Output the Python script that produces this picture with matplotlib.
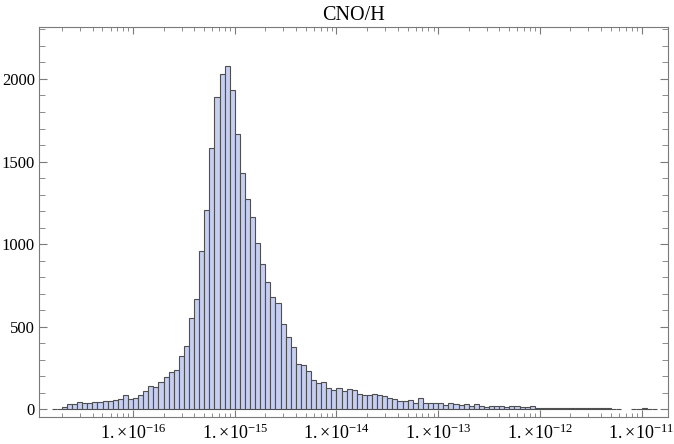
import numpy as np
import matplotlib
matplotlib.use("Agg")
import matplotlib.pyplot as plt
from matplotlib.ticker import FixedLocator, LogLocator, NullFormatter, MultipleLocator

plt.rcParams['font.family'] = ['Liberation Serif', 'DejaVu Serif']
plt.rcParams['mathtext.fontset'] = 'custom'
plt.rcParams['mathtext.rm'] = 'Liberation Serif'
plt.rcParams['mathtext.it'] = 'Liberation Serif:italic'
plt.rcParams['mathtext.bf'] = 'Liberation Serif:bold'

title = "CNO/H"
# histogram in log10 space: first bin edge and bin width (dex)
log_start = -16.80
log_width = 0.05
counts = [
    3, 3, 12, 32, 28, 40, 34, 34, 40, 40,
    46, 46, 58, 60, 83, 64, 70, 87, 107, 139,
    131, 165, 194, 226, 238, 319, 383, 549, 665, 955,
    1209, 1580, 1889, 2032, 2079, 1931, 1669, 1433, 1271, 1164,
    1009, 876, 771, 678, 644, 517, 436, 377, 272, 266,
    232, 176, 159, 165, 129, 117, 127, 107, 121, 113,
    93, 87, 83, 89, 83, 77, 65, 59, 48, 50,
    54, 34, 65, 34, 38, 34, 38, 24, 34, 32,
    24, 28, 18, 28, 16, 12, 16, 20, 16, 12,
    20, 18, 10, 12, 16, 8, 8, 6, 8, 6,
    6, 6, 8, 6, 4, 6, 4, 4, 4, 4,
    3, 3, 0, 0, 3, 3, 5, 3, 3,
]
x_tick_exps = [-16, -15, -14, -13, -12, -11]
y_ticks = [0, 500, 1000, 1500, 2000]

counts = np.array(counts, dtype=float)
lo = log_start + log_width * np.arange(len(counts))
hi = lo + log_width
left = 10.0 ** lo
right = 10.0 ** hi
mask = counts > 0

fig = plt.figure(figsize=(6.74, 4.44), dpi=100)
ax = fig.add_axes([39 / 674, 1 - 417 / 444, (668 - 39) / 674, (417 - 27) / 444])

ax.bar(left[mask], counts[mask], width=(right - left)[mask], align='edge',
       color='#c6cef1', edgecolor='#4f4f4f', linewidth=0.8)

ax.set_xscale('log')
ax.set_xlim(10 ** -16.925, 10 ** -10.74)
ax.set_ylim(-48, 2315)

ax.xaxis.set_major_locator(FixedLocator([10.0 ** e for e in x_tick_exps]))
ax.set_xticklabels([r'$1.\!\times\!10^{%d}$' % e for e in x_tick_exps])
ax.xaxis.set_minor_locator(LogLocator(base=10, subs=np.arange(2, 10), numticks=20))
ax.xaxis.set_minor_formatter(NullFormatter())
ax.yaxis.set_major_locator(FixedLocator(y_ticks))
ax.set_yticklabels([str(v) for v in y_ticks])
ax.yaxis.set_minor_locator(MultipleLocator(100))

spine_col = '#7a7a7a'
for s in ax.spines.values():
    s.set_color(spine_col)
    s.set_linewidth(0.8)
ax.tick_params(which='both', direction='in', top=True, right=True,
               color=spine_col, labelcolor='black')
ax.tick_params(axis='x', which='major', length=5, width=0.8, pad=5, labelsize=13)
ax.tick_params(axis='x', which='minor', length=3, width=0.6)
ax.tick_params(axis='y', which='major', length=6, width=0.8, pad=3, labelsize=12)
ax.tick_params(axis='y', which='minor', length=4, width=0.6)

ax.set_title(title, fontsize=14.5, pad=5)

fig.savefig('out.png', dpi=100)
